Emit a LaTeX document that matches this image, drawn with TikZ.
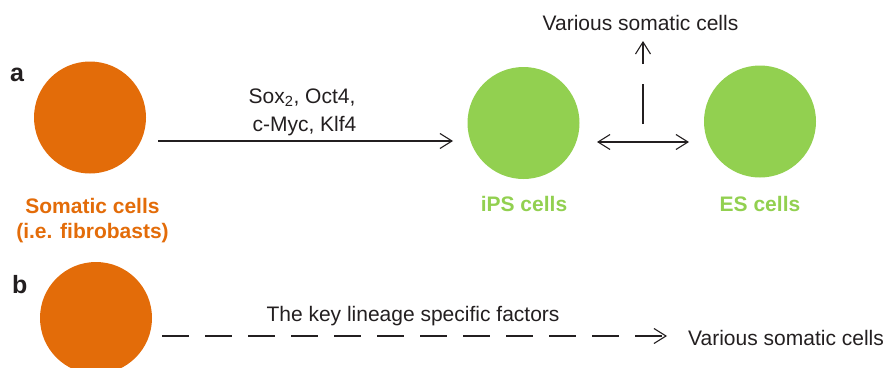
\documentclass[tikz,border=0pt]{standalone}
\usepackage{fontspec}
\setmainfont{Liberation Sans}
\usetikzlibrary{arrows.meta}
\definecolor{cellorange}{HTML}{E36C09}
\definecolor{cellgreen}{HTML}{92D050}
\definecolor{ink}{HTML}{231F20}
\tikzset{
  cell/.style={circle, fill=#1, draw=none, minimum size=112pt, inner sep=0pt},
  txt/.style={anchor=base, text=ink, font=\fontsize{21}{25}\selectfont, inner sep=0pt},
  celllabel/.style={anchor=base, text=#1, font=\fontsize{21}{25}\selectfont\bfseries, inner sep=0pt, align=center},
  panel/.style={anchor=base west, text=ink, font=\fontsize{25}{28}\selectfont\bfseries, inner sep=0pt},
  conn/.style={draw=ink, line width=1.1pt, -{Straight Barb[length=12pt,width=15pt]}},
  plain/.style={draw=ink, line width=1.1pt}
}
\begin{document}
\begin{tikzpicture}[x=1pt,y=-1pt]
\useasboundingbox (0,0) rectangle (894,367);
% panel a
\node[panel] (la) at (10,81) {a};
\node[cell=cellorange] (soma) at (90,117.5) {};
\node[cell=cellgreen] (ips) at (523.5,123) {};
\node[cell=cellgreen] (es) at (760,121.5) {};
\node[celllabel=cellorange] (somalbl1) at (92.5,213) {Somatic cells};
\node[celllabel=cellorange] (somalbl2) at (92.5,238) {(i.e. fibrobasts)};
\node[celllabel=cellgreen] (ipslbl) at (524,211) {iPS cells};
\node[celllabel=cellgreen] (eslbl) at (760,211.5) {ES cells};
\node[txt] (fac1) at (302,103) {Sox\textsubscript{2}, Oct4,};
\node[txt] (fac2) at (304.5,131) {c-Myc, Klf4};
\node[txt] (vartop) at (640.5,30) {Various somatic cells};
\coordinate (a1) at (158,141);
\coordinate (a2) at (453,141);
\draw[conn] (a1) -- (a2);
\coordinate (d1) at (597,142);
\coordinate (d2) at (689,142);
\draw[conn, {Straight Barb[length=12pt,width=15pt]}-{Straight Barb[length=12pt,width=15pt]}] (d1) -- (d2);
\coordinate (v1) at (643,124);
\coordinate (v2) at (643,84);
\coordinate (v3) at (643,64);
\coordinate (v4) at (643,41);
\draw[plain] (v1) -- (v2);
\draw[conn] (v3) -- (v4);
% panel b
\node[panel] (lb) at (12,293) {b};
\node[cell=cellorange] (somab) at (96,318) {};
\node[txt] (keyfac) at (413,321) {The key lineage specific factors};
\node[txt, anchor=base west] (varbot) at (688,345) {Various somatic cells};
\coordinate (b1) at (162,336);
\coordinate (b2) at (667,336);
\draw[conn, dash pattern=on 27pt off 16pt] (b1) -- (b2);
\end{tikzpicture}
\end{document}
